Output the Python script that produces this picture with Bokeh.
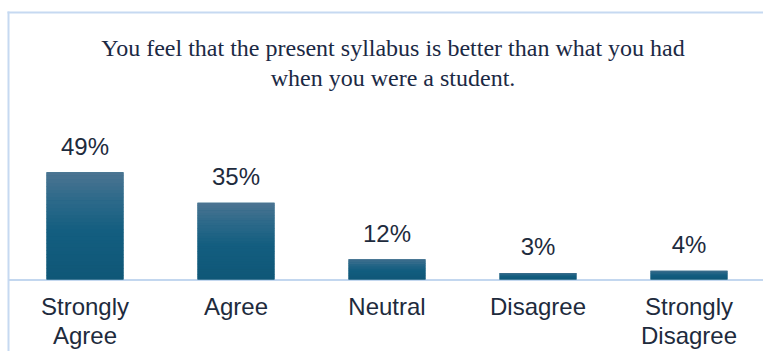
from bokeh.plotting import figure
from bokeh.models import Range1d, BoxAnnotation
from bokeh.core.properties import value
from bokeh.embed import file_html
from bokeh.resources import INLINE

# ---- data ----
categories = ["Strongly Agree", "Agree", "Neutral", "Disagree", "Strongly Disagree"]
tick_labels = ["Strongly\nAgree", "Agree", "Neutral", "Disagree", "Strongly\nDisagree"]
bar_heights = [49, 35, 9.3, 3, 4]          # heights as drawn in the picture
value_labels = ["49%", "35%", "12%", "3%", "4%"]  # labels printed above the bars
title_lines = ["You feel that the present syllabus is better than what you had",
               "when you were a student."]

# ---- layout / style ----
W, H = 763, 351
X0 = 84.5          # pixel x of first category centre
STEP = 151.0       # pixels per category
Y0 = 279.0         # pixel y of value 0
PXU = 2.19         # pixels per percent
BAR_W = 0.51
BORDER = "#c6d9f1"
TEXT = "#1e2b3d"
TITLE_C = "#1b2944"


def py(pix_y):
    return (Y0 - pix_y) / PXU


def px(pix_x):
    return (pix_x - X0) / STEP


xpos = list(range(len(categories)))  # category index -> x scale

p = figure(x_range=Range1d(px(0), px(W)), y_range=Range1d(py(H), py(0)),
           width=W, height=H, output_backend="svg", toolbar_location=None,
           x_axis_location=None, y_axis_location=None, min_border=0,
           outline_line_color=None, background_fill_color="white",
           border_fill_color="white")
p.grid.visible = False

# borders and baseline
p.add_layout(BoxAnnotation(top=py(11), bottom=py(13), left=px(7), fill_color=BORDER,
                           fill_alpha=1, line_color=None, level="underlay"))
p.add_layout(BoxAnnotation(left=px(7), right=px(9), top=py(11), fill_color=BORDER,
                           fill_alpha=1, line_color=None, level="underlay"))
p.add_layout(BoxAnnotation(top=py(278.6), bottom=py(280.6), left=px(8), fill_color="#c3d7ef",
                           fill_alpha=1, line_color=None, level="underlay"))

# bars
p.vbar(x=xpos, top=bar_heights, bottom=0, width=BAR_W,
       fill_color="#125b7c", line_color=None)

# vertical gradient overlay
stops = [(0.0, (15, 87, 119)), (0.45, (19, 94, 128)), (0.75, (46, 106, 138)), (1.0, (76, 116, 145))]


def grad(f):
    for (f0, c0), (f1, c1) in zip(stops[:-1], stops[1:]):
        if f0 <= f <= f1:
            t = (f - f0) / (f1 - f0)
            return "#%02x%02x%02x" % tuple(int(round(a + (b - a) * t)) for a, b in zip(c0, c1))
    return "#%02x%02x%02x" % stops[-1][1]


N = 30
gx, gb, gt, gc = [], [], [], []
for xi, v in zip(xpos, bar_heights):
    for i in range(N):
        f0, f1 = i / N, (i + 1) / N
        gx.append(xi)
        gb.append(v * f0)
        gt.append(v * min(1.0, f1 + 0.004))
        gc.append(grad((f0 + f1) / 2))
p.vbar(x=gx, bottom=gb, top=gt, width=BAR_W, fill_color=gc, line_color=None)

# value labels
p.text(x=xpos, y=[v + 26.0 / PXU for v in bar_heights],
       text=value_labels, text_align="center",
       text_baseline="alphabetic", text_font=value("Liberation Sans"),
       text_font_size="24px", text_color=TEXT)

# category labels
p.text(x=xpos, y=[py(292)] * len(categories), text=tick_labels,
       text_align="center", text_baseline="top", text_line_height=1.1,
       text_font=value("Liberation Sans"), text_font_size="24px", text_color=TEXT)

# title
p.text(x=[px(392.5)] * 2, y=[py(47), py(77)], text=title_lines,
       text_align="center", text_baseline="alphabetic",
       text_font=value("Liberation Serif"), text_font_size="24px", text_color=TITLE_C)

open("out.html", "w").write(file_html(p, INLINE))
